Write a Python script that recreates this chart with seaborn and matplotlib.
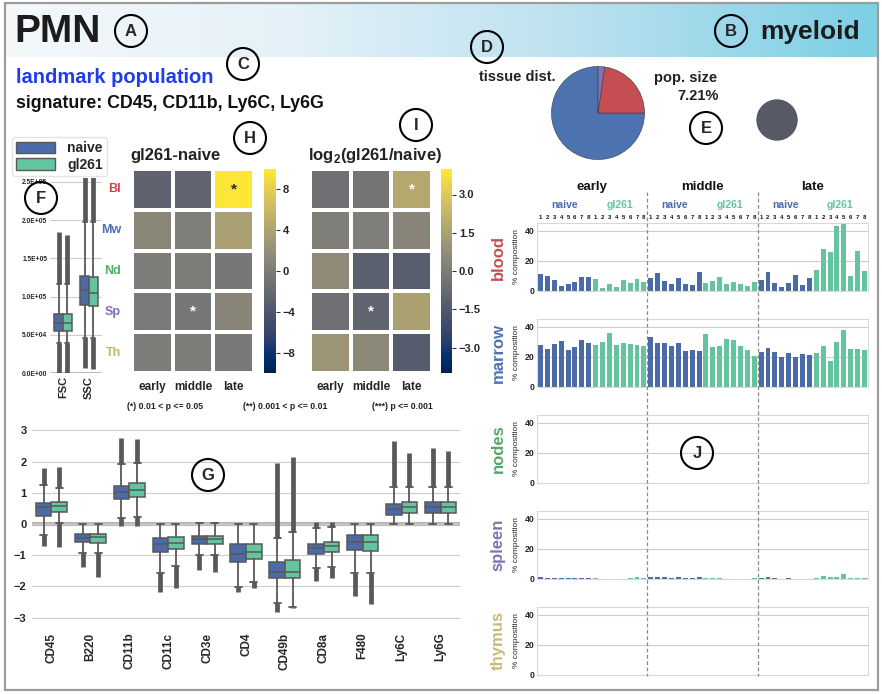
import matplotlib
matplotlib.use("Agg")

import matplotlib.pyplot as plt
import matplotlib.transforms as mtransforms
import numpy as np
import pandas as pd
import seaborn as sns
from matplotlib.colors import LinearSegmentedColormap
from matplotlib.patches import Circle, Patch, Rectangle

# ==========================================================
# Data
# ==========================================================

W, H = 882, 694

CONDITIONS = ["naive", "gl261"]
TIMEPOINTS = ["early", "middle", "late"]
MICE = [1, 2, 3, 4, 5, 6, 7, 8]

TISSUES = ["blood", "marrow", "nodes", "spleen", "thymus"]
TISSUE_ABBR = ["Bl", "Mw", "Nd", "Sp", "Th"]

# tissue distribution of the population (%), pie
PIE_ORDER = ["marrow", "blood", "nodes", "spleen", "thymus"]
PIE_PCT = [75.0, 22.7, 0.0, 2.3, 0.0]
POP_SIZE = "7.21%"

# panel F: scatter channels
SCATTER = ["FSC", "SSC"]
sc_naive_q1 = [55e3, 89e3]
sc_naive_med = [66e3, 108e3]
sc_naive_q3 = [77e3, 127e3]
sc_naive_lo = [39e3, 46e3]
sc_naive_hi = [117e3, 198e3]
sc_naive_flo = [0, 7e3]
sc_naive_fhi = [184e3, 262e3]
sc_gl_q1 = [55e3, 87e3]
sc_gl_med = [66e3, 105e3]
sc_gl_q3 = [77e3, 126e3]
sc_gl_lo = [39e3, 46e3]
sc_gl_hi = [117e3, 198e3]
sc_gl_flo = [0, 5e3]
sc_gl_fhi = [180e3, 262e3]

# panel G: marker expression
MARKERS = ["CD45", "B220", "CD11b", "CD11c", "CD3e", "CD4",
           "CD49b", "CD8a", "F480", "Ly6C", "Ly6G"]
mk_naive_q1 = [0.26, -0.57, 0.80, -0.91, -0.64, -1.21, -1.74, -0.96, -0.83, 0.29, 0.36]
mk_naive_med = [0.53, -0.44, 1.04, -0.65, -0.48, -0.97, -1.53, -0.76, -0.57, 0.48, 0.56]
mk_naive_q3 = [0.68, -0.32, 1.23, -0.46, -0.38, -0.65, -1.23, -0.64, -0.35, 0.64, 0.70]
mk_naive_lo = [-0.35, -0.94, 0.20, -1.56, -1.00, -2.01, -2.52, -1.42, -1.56, 0.00, 0.00]
mk_naive_hi = [1.25, 0.00, 1.91, 0.00, 0.02, 0.00, -0.46, -0.14, 0.00, 1.17, 1.20]
mk_naive_flo = [-0.70, -1.37, -0.06, -2.17, -1.48, -2.17, -2.81, -1.82, -2.30, 0.00, 0.00]
mk_naive_fhi = [1.78, 0.00, 2.75, 0.00, 0.05, 0.00, 1.95, 0.07, 0.00, 2.67, 2.43]
mk_gl_q1 = [0.40, -0.60, 0.88, -0.81, -0.64, -1.13, -1.74, -0.91, -0.86, 0.34, 0.36]
mk_gl_med = [0.58, -0.43, 1.09, -0.60, -0.48, -0.90, -1.53, -0.70, -0.58, 0.53, 0.53]
mk_gl_q3 = [0.72, -0.32, 1.30, -0.41, -0.38, -0.64, -1.16, -0.59, -0.35, 0.70, 0.72]
mk_gl_lo = [0.02, -0.94, 0.24, -1.34, -1.00, -1.87, -2.65, -1.37, -1.56, 0.00, 0.00]
mk_gl_hi = [1.14, 0.00, 1.95, 0.00, 0.02, 0.00, -0.25, -0.11, 0.00, 1.17, 1.20]
mk_gl_flo = [-0.73, -1.69, -0.08, -2.06, -1.53, -2.06, -2.70, -1.74, -2.55, 0.00, 0.00]
mk_gl_fhi = [1.84, 0.00, 2.73, 0.00, 0.05, 0.00, 2.16, 0.07, 0.00, 2.29, 2.35]

# panel H / I: rows = tissues, cols = timepoints
diff_vals = [[-2.6, -2.4, 9.9],
             [1.2, 0.3, 3.6],
             [0.0, 0.0, -0.4],
             [-0.1, -0.4, 1.0],
             [0.0, 0.0, -0.3]]
ratio_vals = [[-0.5, -0.3, 1.8],
              [0.1, 0.1, 0.4],
              [0.6, -1.2, -1.3],
              [-0.5, -1.0, 1.5],
              [1.0, 0.5, -1.4]]
sig_marks = [["", "", "*"],
             ["", "", ""],
             ["", "", ""],
             ["", "*", ""],
             ["", "", ""]]

# panel J: % composition, order = early(naive 1-8, gl261 1-8), middle(...), late(...)
blood_pct = [11.1, 10.0, 7.1, 3.3, 4.9, 6.0, 9.1, 9.1,
             7.8, 1.8, 4.4, 2.9, 7.1, 5.6, 7.8, 5.8,
             8.9, 11.8, 6.9, 4.4, 8.7, 4.7, 3.8, 12.4,
             5.1, 6.7, 9.3, 4.4, 5.8, 4.4, 3.6, 6.0,
             7.1, 12.7, 5.6, 2.7, 5.6, 10.7, 4.0, 8.4,
             14.0, 28.0, 25.8, 43.3, 44.7, 10.0, 26.2, 13.3]
marrow_pct = [28.1, 25.3, 28.6, 30.5, 24.2, 26.4, 31.4, 28.8,
              27.5, 29.5, 35.8, 27.5, 29.2, 28.4, 27.5, 27.0,
              33.2, 29.0, 28.8, 27.0, 28.8, 24.0, 24.8, 23.5,
              35.0, 26.2, 27.0, 31.9, 31.2, 27.3, 24.2, 20.7,
              23.3, 25.7, 22.9, 19.8, 22.6, 19.8, 22.0, 21.1,
              22.4, 27.0, 17.4, 29.5, 37.8, 25.3, 25.3, 24.6]
nodes_pct = [0.0, 0.0, 0.0, 0.0, 0.0, 0.0, 0.0, 0.0,
             0.0, 0.0, 0.0, 0.0, 0.0, 0.0, 0.0, 0.0,
             0.3, 0.0, 0.0, 0.0, 0.0, 0.0, 0.0, 0.0,
             0.0, 0.0, 0.0, 0.0, 0.0, 0.0, 0.0, 0.0,
             0.0, 0.0, 0.0, 0.0, 0.0, 0.0, 0.0, 0.0,
             0.0, 0.0, 0.0, 0.0, 0.0, 0.0, 0.0, 0.0]
spleen_pct = [1.5, 0.5, 0.4, 0.4, 0.4, 0.8, 0.4, 0.4,
              0.4, 0.3, 0.3, 0.3, 0.3, 0.4, 1.2, 0.5,
              1.5, 1.4, 1.0, 0.6, 1.0, 0.7, 0.6, 1.2,
              0.5, 0.6, 0.4, 0.3, 0.3, 0.3, 0.3, 0.4,
              0.6, 1.0, 0.5, 0.1, 0.6, 0.3, 0.3, 0.3,
              0.7, 2.3, 1.3, 1.3, 3.3, 0.6, 0.6, 0.5]
thymus_pct = [0.0, 0.0, 0.0, 0.0, 0.0, 0.0, 0.0, 0.0,
              0.0, 0.0, 0.0, 0.0, 0.0, 0.0, 0.0, 0.0,
              0.0, 0.0, 0.0, 0.0, 0.0, 0.0, 0.0, 0.0,
              0.0, 0.0, 0.0, 0.0, 0.0, 0.0, 0.0, 0.0,
              0.0, 0.0, 0.0, 0.3, 0.0, 0.0, 0.0, 0.0,
              0.0, 0.0, 0.0, 0.0, 0.0, 0.0, 0.0, 0.0]

# ==========================================================
# Style
# ==========================================================

NAIVE_C = "#4b6aa8"
GL_C = "#65c4a0"
EDGE = "#585858"
TISSUE_C = {"blood": "#c44e52", "marrow": "#4c72b0", "nodes": "#55a868",
            "spleen": "#8172b3", "thymus": "#ccb974"}
ABBR_C = ["#d0444a", "#4c72b0", "#4fae62", "#7f6fc0", "#c8b26a"]

sns.set_style("whitegrid")
plt.rcParams["font.family"] = ["Liberation Sans", "DejaVu Sans"]
plt.rcParams["font.weight"] = "bold"
plt.rcParams["mathtext.fontset"] = "custom"
plt.rcParams["mathtext.rm"] = "Liberation Sans:bold"
plt.rcParams["axes.unicode_minus"] = True


def px_box(x0, y0, x1, y1):
    return [x0 / W, 1 - y1 / H, (x1 - x0) / W, (y1 - y0) / H]


def draw_boxes(ax, centers, offset, width, q1, med, q3, lo, hi, flo, fhi, color):
    stats = [dict(med=m, q1=a, q3=b, whislo=l, whishi=h, fliers=[])
             for a, m, b, l, h in zip(q1, med, q3, lo, hi)]
    pos = [c + offset for c in centers]
    ax.vlines(pos, flo, lo, color=EDGE, lw=3.4, zorder=2)
    ax.vlines(pos, hi, fhi, color=EDGE, lw=3.4, zorder=2)
    ax.bxp(stats, positions=pos, widths=width, patch_artist=True,
           showfliers=False, manage_ticks=False, capwidths=width * 0.45,
           boxprops=dict(facecolor=color, edgecolor=EDGE, linewidth=1.1),
           medianprops=dict(color=EDGE, linewidth=1.1),
           whiskerprops=dict(color=EDGE, linewidth=1.3),
           capprops=dict(color=EDGE, linewidth=1.3))


fig = plt.figure(figsize=(W / 100, H / 100), dpi=100)

# ----------------------------------------------------------
# background: header band, texts
# ----------------------------------------------------------

bg = fig.add_axes([0, 0, 1, 1], zorder=-5)
hdr_cmap = LinearSegmentedColormap.from_list(
    "hdr", ["#f4f8fb", "#e4f1f8", "#b9e0ef", "#7ccfe4"])
bg.imshow(np.linspace(0, 1, 256)[None, :], extent=(5, 878, 57, 3),
          aspect="auto", cmap=hdr_cmap)
bg.set_xlim(0, W)
bg.set_ylim(H, 0)
bg.axis("off")

fg = fig.add_axes([0, 0, 1, 1], zorder=20)
fg.set_xlim(0, W)
fg.set_ylim(H, 0)
fg.patch.set_alpha(0)
fg.axis("off")
fg.add_patch(Rectangle((5, 3), 873, 687, fill=False, ec="#9c9c9c", lw=1.6))

fg.text(14, 32, "PMN", fontsize=28, va="center", color="#1c1c1c")
fg.text(860, 32, "myeloid", fontsize=19, va="center", ha="right", color="#1c1c1c")
fg.text(16, 77, "landmark population", fontsize=14.5, va="center", color="#1f3cf0")
fg.text(16, 103, "signature: " + ", ".join(["CD45", "CD11b", "Ly6C", "Ly6G"]),
        fontsize=12.8, va="center", color="#111111")
fg.text(479, 77, "tissue dist.", fontsize=10.5, va="center", color="#222222")
fg.text(654, 78, "pop. size", fontsize=10.5, va="center", color="#222222")
fg.text(719, 96, POP_SIZE, fontsize=10.5, va="center", ha="right", color="#222222")
fg.add_patch(Circle((777, 120), 20, color="#555a64"))

for txt, x in zip(["(*) 0.01 < p <= 0.05", "(**) 0.001 < p <= 0.01",
                   "(***) p <= 0.001"], [127, 243, 372]):
    fg.text(x, 406, txt, fontsize=6.3, va="center", color="#222222")

letters = {"A": (131, 31), "B": (731, 31), "C": (243, 64), "D": (487, 47),
           "E": (706, 128), "F": (41, 198), "G": (208, 475), "H": (250, 138),
           "I": (416, 125), "J": (697, 453)}
for lab, (x, y) in letters.items():
    fg.add_patch(Circle((x, y), 16, fill=False, ec="black", lw=1.5))
    fg.text(x, y + 0.5, lab, fontsize=12, ha="center", va="center")

# ----------------------------------------------------------
# D: pie
# ----------------------------------------------------------

pax = fig.add_axes(px_box(551, 66, 645, 160))
pie_vals = [v for v in PIE_PCT if v > 0]
pie_cols = [TISSUE_C[t] for t, v in zip(PIE_ORDER, PIE_PCT) if v > 0]
pax.pie(pie_vals, colors=pie_cols, startangle=90, counterclock=True,
        wedgeprops=dict(edgecolor="#3a3a3a", linewidth=0.4))
pax.set_xlim(-1.01, 1.01)
pax.set_ylim(-1.01, 1.01)
pax.set_aspect("equal")

# ----------------------------------------------------------
# F: scatter channels
# ----------------------------------------------------------

fax = fig.add_axes(px_box(50, 178, 102, 373))
centers = list(range(len(SCATTER)))
draw_boxes(fax, centers, -0.17, 0.33, sc_naive_q1, sc_naive_med, sc_naive_q3,
           sc_naive_lo, sc_naive_hi, sc_naive_flo, sc_naive_fhi, NAIVE_C)
draw_boxes(fax, centers, 0.17, 0.33, sc_gl_q1, sc_gl_med, sc_gl_q3,
           sc_gl_lo, sc_gl_hi, sc_gl_flo, sc_gl_fhi, GL_C)
fax.set_xlim(-0.5, 1.5)
fax.set_ylim(0, 2.55e5)
fax.axhline(0, color="#bdbdbd", lw=2.2, zorder=0.5)
sc_ticks = [0, 5e4, 1e5, 1.5e5, 2e5, 2.5e5]
fax.set_yticks(sc_ticks)
fax.set_yticklabels([f"{v:.1E}" for v in sc_ticks], fontsize=4.8)
fax.set_xticks(centers)
fax.set_xticklabels(SCATTER, rotation=90, fontsize=8)
fax.grid(axis="x", visible=False)
fax.tick_params(axis="both", pad=2, length=0)
for s in fax.spines.values():
    s.set_visible(False)

fig.legend(handles=[Patch(fc=NAIVE_C, ec=EDGE), Patch(fc=GL_C, ec=EDGE)],
           labels=CONDITIONS, loc="upper left",
           bbox_to_anchor=(5 / W, 1 - 130 / H), fontsize=10,
           handlelength=2.8, handleheight=0.9, borderpad=0.3,
           labelspacing=0.2, handletextpad=0.9, frameon=True,
           edgecolor="#dddddd")

# ----------------------------------------------------------
# H / I: heatmaps
# ----------------------------------------------------------

diff_df = pd.DataFrame(diff_vals, index=TISSUE_ABBR, columns=TIMEPOINTS)
ratio_df = pd.DataFrame(ratio_vals, index=TISSUE_ABBR, columns=TIMEPOINTS)
annot = np.array(sig_marks)

hm_specs = [
    (diff_df, (132, 254), (264, 276), 10, [-8, -4, 0, 4, 8],
     ["\u22128", "\u22124", "0", "4", "8"], "gl261-naive", True),
    (ratio_df, (310, 432), (441, 452), 4, [-3, -1.5, 0, 1.5, 3],
     ["\u22123.0", "\u22121.5", "0.0", "1.5", "3.0"],
     r"log$_{2}$(gl261/naive)", False),
]
for df_hm, (x0, x1), (c0, c1), vlim, cticks, clabels, title, show_rows in hm_specs:
    hax = fig.add_axes(px_box(x0, 169, x1, 373))
    cax = fig.add_axes(px_box(c0, 169, c1, 373))
    sns.heatmap(df_hm, ax=hax, cbar_ax=cax, cmap="cividis", vmin=-vlim,
                vmax=vlim, linewidths=1.5, linecolor="white", annot=annot,
                fmt="", annot_kws=dict(fontsize=11, fontweight="bold"))
    hax.set_xticklabels(TIMEPOINTS, rotation=0, fontsize=8.5)
    hax.tick_params(axis="x", length=0, pad=6)
    if show_rows:
        hax.set_yticklabels(TISSUE_ABBR, rotation=0, fontsize=9)
        for lbl, c in zip(hax.get_yticklabels(), ABBR_C):
            lbl.set_color(c)
        hax.tick_params(axis="y", length=0, pad=8)
    else:
        hax.set_yticks([])
    hax.set_xlabel("")
    hax.set_ylabel("")
    cax.set_yticks(cticks)
    cax.set_yticklabels(clabels, fontsize=8)
    cax.tick_params(axis="y", length=3, width=0.8, pad=2, color="#333333")
    fg.text(x0 - 2, 155, title, fontsize=12, va="center", color="#222222")

# ----------------------------------------------------------
# G: marker expression
# ----------------------------------------------------------

gax = fig.add_axes(px_box(32, 421, 460, 627))
centers = list(range(len(MARKERS)))
draw_boxes(gax, centers, -0.2, 0.4, mk_naive_q1, mk_naive_med, mk_naive_q3,
           mk_naive_lo, mk_naive_hi, mk_naive_flo, mk_naive_fhi, NAIVE_C)
draw_boxes(gax, centers, 0.2, 0.4, mk_gl_q1, mk_gl_med, mk_gl_q3,
           mk_gl_lo, mk_gl_hi, mk_gl_flo, mk_gl_fhi, GL_C)
gax.axhline(0, color="#b8b8b8", lw=3, zorder=0.5)
gax.set_xlim(-0.5, len(MARKERS) - 0.5)
gax.set_ylim(-3.3, 3.3)
gax.set_yticks([-3, -2, -1, 0, 1, 2, 3])
gax.set_yticklabels(["\u22123", "\u22122", "\u22121", "0", "1", "2", "3"], fontsize=8)
gax.set_xticks(centers)
gax.set_xticklabels(MARKERS, rotation=90, fontsize=8.5)
gax.grid(axis="x", visible=False)
gax.tick_params(axis="both", length=0, pad=4)
for s in gax.spines.values():
    s.set_visible(False)

# ----------------------------------------------------------
# J: % composition per tissue
# ----------------------------------------------------------

comp = {"blood": blood_pct, "marrow": marrow_pct, "nodes": nodes_pct,
        "spleen": spleen_pct, "thymus": thymus_pct}
slot_cond = [c for _ in TIMEPOINTS for c in CONDITIONS for _ in MICE]
slot_mouse = [m for _ in TIMEPOINTS for _ in CONDITIONS for m in MICE]
slots = list(range(len(slot_cond)))
cond_col = {"naive": NAIVE_C, "gl261": GL_C}

tops = [223, 319, 415, 511, 607]
bar_axes = []
for tissue, top in zip(TISSUES, tops):
    ax = fig.add_axes(px_box(537, top, 868, top + 68))
    df_t = pd.DataFrame({"slot": slots, "pct": comp[tissue]})
    sns.barplot(data=df_t, x="slot", y="pct", color=NAIVE_C, width=0.72,
                saturation=1, errorbar=None, ax=ax)
    for patch, cond in zip(ax.patches, slot_cond):
        patch.set_facecolor(cond_col[cond])
        patch.set_edgecolor("none")
    ax.set_xlim(-0.5, len(slots) - 0.5)
    ax.set_ylim(0, 45)
    ax.set_yticks([0, 20, 40])
    ax.set_yticklabels(["0", "20", "40"], fontsize=6.3)
    ax.set_xticks([])
    ax.set_xlabel("")
    ax.set_ylabel("% composition", fontsize=6, labelpad=3)
    ax.tick_params(axis="y", length=0, pad=2)
    for s in ax.spines.values():
        s.set_color("#d8d8d8")
    ax.text(-0.118, 0.5, tissue, transform=ax.transAxes, rotation=90,
            ha="center", va="center", fontsize=12, color=TISSUE_C[tissue])
    bar_axes.append(ax)

trans = mtransforms.blended_transform_factory(bar_axes[0].transData, fig.transFigure)
n_per_time = len(CONDITIONS) * len(MICE)
for ti, tp in enumerate(TIMEPOINTS):
    start = ti * n_per_time
    fig.text(start + n_per_time / 2 - 0.5, 1 - 187 / H, tp, transform=trans,
             ha="center", va="center", fontsize=9.5, color="#111111")
    for ci, cond in enumerate(CONDITIONS):
        mid = start + ci * len(MICE) + len(MICE) / 2 - 0.5
        fig.text(mid, 1 - 205 / H, cond, transform=trans, ha="center",
                 va="center", fontsize=7.5, color=cond_col[cond])
    if ti > 0:
        fig.add_artist(plt.Line2D([start - 0.5, start - 0.5],
                                  [1 - 192 / H, 1 - 676 / H], transform=trans,
                                  color="#8a8a8a", lw=0.9, ls=(0, (3, 2))))
for s, m in zip(slots, slot_mouse):
    fig.text(s, 1 - 217 / H, str(m), transform=trans, ha="center",
             va="center", fontsize=4.3, color="#111111")

fig.savefig("out.png", dpi=100)
